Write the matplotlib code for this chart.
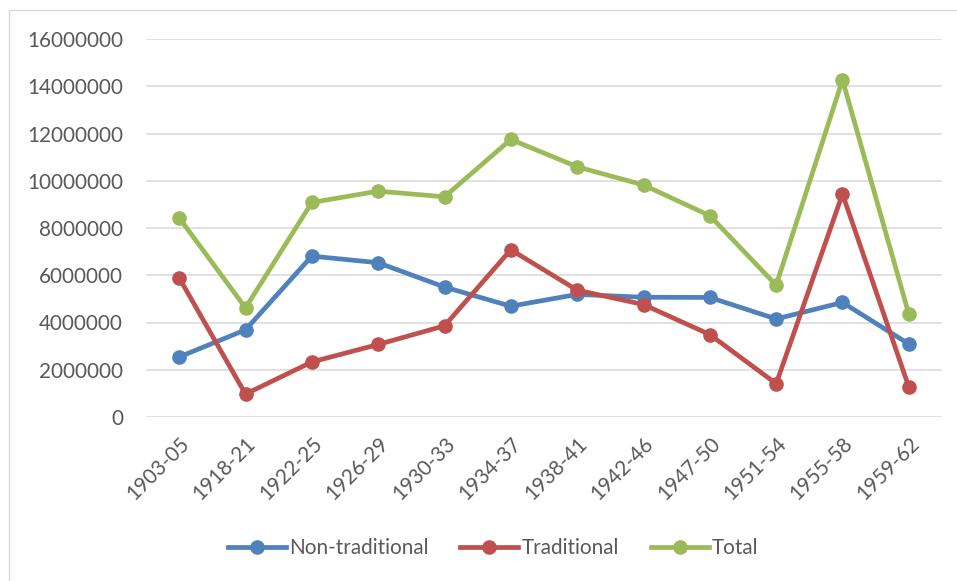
import matplotlib.pyplot as plt
from matplotlib.patches import Rectangle

periods = ["1903-05", "1918-21", "1922-25", "1926-29", "1930-33", "1934-37",
           "1938-41", "1942-46", "1947-50", "1951-54", "1955-58", "1959-62"]
non_traditional = [2540000, 3690000, 6810000, 6530000, 5500000, 4690000,
                   5190000, 5070000, 5060000, 4150000, 4850000, 3090000]
traditional = [5890000, 970000, 2330000, 3070000, 3860000, 7080000,
               5370000, 4760000, 3490000, 1410000, 9440000, 1270000]
total = [8430000, 4620000, 9080000, 9560000, 9320000, 11750000,
         10590000, 9820000, 8520000, 5580000, 14270000, 4350000]
yticks = [0, 2000000, 4000000, 6000000, 8000000, 10000000, 12000000, 14000000, 16000000]

plt.rcParams['font.family'] = ['Lato', 'DejaVu Sans']
TXT = "#595959"
FS = 14.9

fig = plt.figure(figsize=(9.57, 5.81), dpi=100)
# chart area border
fig.patches.append(Rectangle((9 / 957, -0.1), 1.2, (581 - 10) / 581 + 0.1,
                             transform=fig.transFigure, fill=False,
                             edgecolor="#d9d9d9", linewidth=1.0))

ax = fig.add_axes([146 / 957, (581 - 417) / 581, (942 - 146) / 957, (417 - 39) / 581])
x = range(len(periods))
ax.plot(x, non_traditional, color="#4f81bd", lw=3.4, marker="o", ms=9.5, label="Non-traditional")
ax.plot(x, traditional, color="#c0504d", lw=3.4, marker="o", ms=9.5, label="Traditional")
ax.plot(x, total, color="#9bbb59", lw=3.4, marker="o", ms=9.5, label="Total")

ax.set_xlim(-0.5, len(periods) - 0.5)
ax.set_ylim(0, 16000000)
ax.set_yticks(yticks)
ax.set_yticklabels([str(v) for v in yticks])
ax.set_xticks(list(x))
ax.set_xticklabels(periods, rotation=45, ha="right", rotation_mode="anchor")
ax.tick_params(axis="both", length=0, labelsize=FS, labelcolor=TXT)
ax.tick_params(axis="y", pad=16.5)
ax.tick_params(axis="x", pad=12)
ax.grid(axis="y", color="#d9d9d9", lw=1.1)
ax.set_axisbelow(True)
for s in ax.spines.values():
    s.set_visible(False)

fig.legend(loc="center", bbox_to_anchor=(493 / 957, 33 / 581), ncol=3, frameon=False,
           fontsize=FS, labelcolor=TXT, handlelength=2.8, handletextpad=0.15,
           columnspacing=1.55)

fig.savefig("out.png", dpi=100)
